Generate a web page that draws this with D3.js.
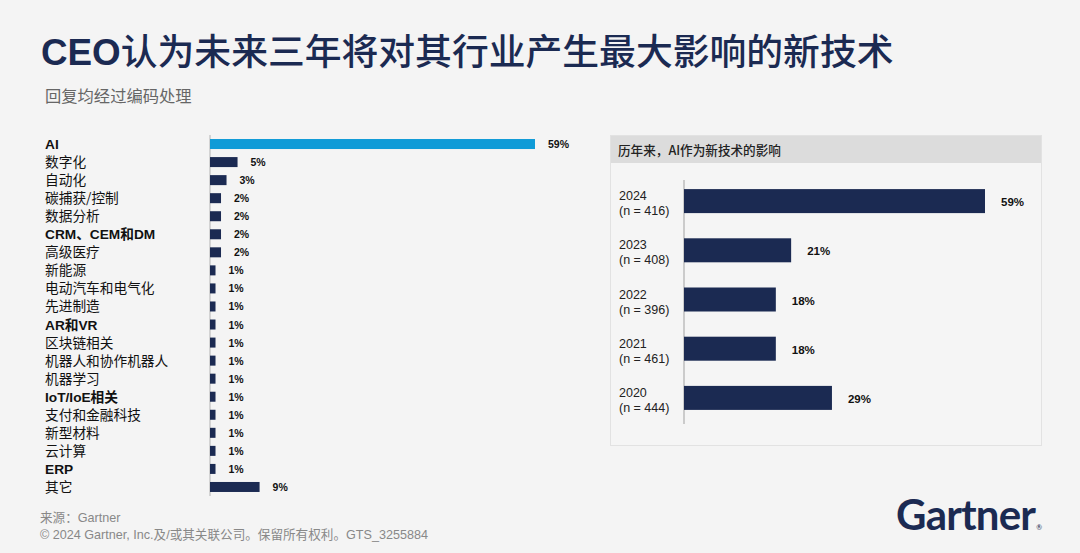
<!DOCTYPE html>
<html><head><meta charset="utf-8">
<script src="https://cdn.jsdelivr.net/npm/d3@7/dist/d3.min.js"></script>
<style>
html,body{margin:0;padding:0;background:#f4f4f4;}
svg{display:block;font-family:"Liberation Sans","Noto Sans CJK SC",sans-serif;}
</style></head>
<body>
<svg id="c" width="1080" height="553"></svg>
<script>
const categories = ["AI","数字化","自动化","碳捕获/控制","数据分析","CRM、CEM和DM","高级医疗","新能源","电动汽车和电气化","先进制造","AR和VR","区块链相关","机器人和协作机器人","机器学习","IoT/IoE相关","支付和金融科技","新型材料","云计算","ERP","其它"];
const values = [59,5,3,2,2,2,2,1,1,1,1,1,1,1,1,1,1,1,1,9];
const boldLabels = ["AI","CRM、CEM和DM","AR和VR","IoT/IoE相关","ERP"];
const years = ["2024","2023","2022","2021","2020"];
const yearN = ["(n = 416)","(n = 408)","(n = 396)","(n = 461)","(n = 444)"];
const aiShare = [59,21,18,18,29];

const navy = "#1b2a52", blue = "#0f9bd7";
const svg = d3.select("#c");
svg.append("rect").attr("width",1080).attr("height",553).attr("fill","#f4f4f4");

// Title
const t = svg.append("text").attr("x",41).attr("y",65).attr("fill",navy).attr("font-size",36.8);
t.append("tspan").attr("font-family","Liberation Sans").attr("font-weight","bold").text("CEO");
t.append("tspan").attr("font-family","Noto Sans CJK SC").attr("font-weight",500).text("认为未来三年将对其行业产生最大影响的新技术");
svg.append("text").attr("x",45).attr("y",102).attr("fill","#666").attr("font-size",16.3)
  .attr("font-family","Noto Sans CJK SC").text("回复均经过编码处理");

// Left chart
const x1 = d3.scaleLinear().domain([0,59]).range([210,535]);
const y1 = d3.scaleBand().domain(categories).range([135,496]);
const g1 = svg.append("g");
g1.append("line").attr("x1",210).attr("x2",210).attr("y1",135).attr("y2",496).attr("stroke","#c8c8c8").attr("stroke-width",1.5);
const bh1 = 10;
g1.selectAll("rect.b").data(categories).join("rect").attr("class","b")
  .attr("x",x1(0)).attr("y",d=>y1(d)+y1.bandwidth()/2-bh1/2)
  .attr("width",(d,i)=>x1(values[i])-x1(0)).attr("height",bh1)
  .attr("fill",(d,i)=>i===0?blue:navy);
g1.selectAll("text.l").data(categories).join("text").attr("class","l")
  .attr("x",45).attr("y",d=>y1(d)+y1.bandwidth()/2+5)
  .attr("font-size",13.7).attr("fill","#111")
  .attr("font-weight",d=>boldLabels.includes(d)?"bold":"normal")
  .attr("font-family",d=>boldLabels.includes(d)?"Liberation Sans, Noto Sans CJK SC":"Noto Sans CJK SC")
  .text(d=>d);
g1.selectAll("text.v").data(categories).join("text").attr("class","v")
  .attr("x",(d,i)=>x1(values[i])+13).attr("y",d=>y1(d)+y1.bandwidth()/2+4)
  .attr("font-size",10.5).attr("font-weight","bold").attr("fill","#111")
  .text((d,i)=>values[i]+"%");

// Right panel
const p = svg.append("g");
p.append("rect").attr("x",610.5).attr("y",135.5).attr("width",431).attr("height",310)
  .attr("fill","#f5f5f5").attr("stroke","#e2e2e2").attr("stroke-width",1);
p.append("rect").attr("x",611).attr("y",136).attr("width",430).attr("height",27).attr("fill","#dcdcdc");
p.append("text").attr("x",618).attr("y",155).attr("font-size",12.6).attr("fill","#222")
  .attr("font-family","Noto Sans CJK SC").attr("font-weight",500).text("历年来，AI作为新技术的影响");

const x2 = d3.scaleLinear().domain([0,59]).range([684,985]);
const y2 = d3.scaleBand().domain(years).range([176.5,422.5]);
p.append("line").attr("x1",684).attr("x2",684).attr("y1",180).attr("y2",424).attr("stroke","#bdbdbd").attr("stroke-width",1.5);
const bh2 = 24;
p.selectAll("rect.b").data(years).join("rect").attr("class","b")
  .attr("x",x2(0)).attr("y",d=>y2(d)+y2.bandwidth()/2-bh2/2)
  .attr("width",(d,i)=>x2(aiShare[i])-x2(0)).attr("height",bh2).attr("fill",navy);
p.selectAll("text.y").data(years).join("text").attr("class","y")
  .attr("x",619).attr("y",d=>y2(d)+y2.bandwidth()/2-1)
  .attr("font-size",12.5).attr("fill","#222").text(d=>d);
p.selectAll("text.n").data(years).join("text").attr("class","n")
  .attr("x",619).attr("y",d=>y2(d)+y2.bandwidth()/2+14)
  .attr("font-size",12.5).attr("fill","#222").text((d,i)=>yearN[i]);
p.selectAll("text.v").data(years).join("text").attr("class","v")
  .attr("x",(d,i)=>x2(aiShare[i])+16).attr("y",d=>y2(d)+y2.bandwidth()/2+5)
  .attr("font-size",11.5).attr("font-weight","bold").attr("fill","#111")
  .text((d,i)=>aiShare[i]+"%");

// Footer
svg.append("text").attr("x",40).attr("y",522).attr("font-size",12.6).attr("fill","#888")
  .attr("font-family","Liberation Sans, Noto Sans CJK SC").text("来源：Gartner");
svg.append("text").attr("x",40).attr("y",539).attr("font-size",12.6).attr("fill","#888")
  .attr("font-family","Liberation Sans, Noto Sans CJK SC").text("© 2024 Gartner, Inc.及/或其关联公司。保留所有权利。GTS_3255884");

// Logo
const logo = svg.append("text").attr("x",896).attr("y",530).attr("fill",navy)
  .attr("font-family","Lato, Liberation Sans");
logo.append("tspan").attr("font-size",42).attr("font-weight","bold").attr("letter-spacing",-0.8).text("Gartner");
logo.append("tspan").attr("font-size",7).attr("dx",1).text("®");
</script>
</body></html>
